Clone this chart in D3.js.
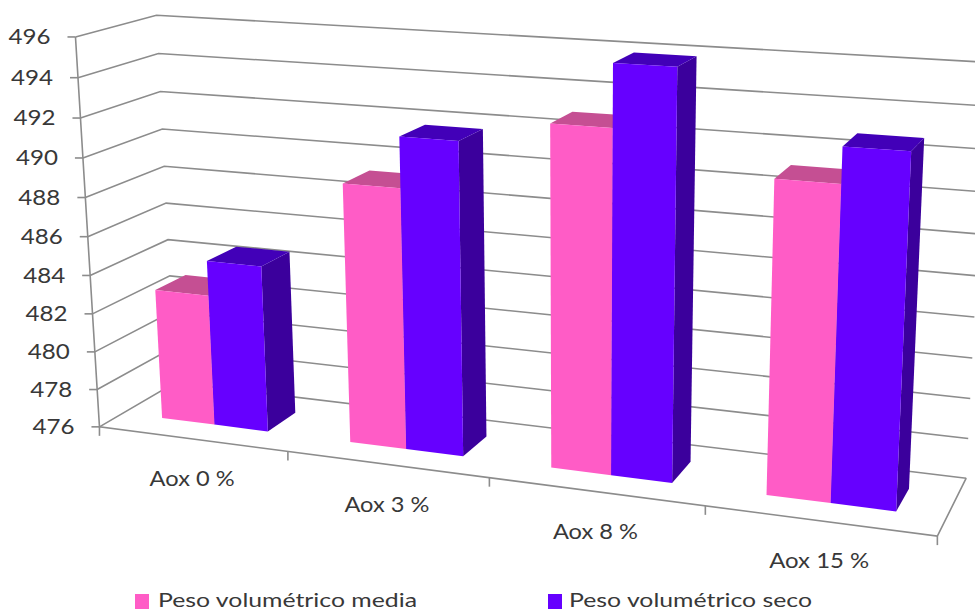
<!DOCTYPE html>
<html>
<head>
<meta charset="utf-8">
<script src="https://cdn.jsdelivr.net/npm/d3@7"></script>
<style>
  html, body { margin: 0; padding: 0; background: #fff; }
  svg { display: block; }
  text { font-family: Lato, "Noto Sans", sans-serif; fill: #383838; }
</style>
</head>
<body>
<svg id="chart" width="975" height="611"></svg>
<script>
// Chart values
const categories = ["Aox 0 %", "Aox 3 %", "Aox 8 %", "Aox 15 %"];
const seriesNames = ["Peso volumétrico media", "Peso volumétrico seco"];
const pesoMedia = [482.85, 489.23, 492.9, 491.1];
const pesoSeco = [484.65, 491.75, 495.9, 492.8];
const yTicks = [476, 478, 480, 482, 484, 486, 488, 490, 492, 494, 496];

const seriesValues = [pesoMedia, pesoSeco];
const faceColors = [
  { front: "#ff5cc6", top: "#c54f93", side: "#c54f93" },
  { front: "#6600ff", top: "#4200b8", side: "#3b009c" }
];

// Scales work in a unit cube: x along the categories, y up, z into the page
const xGroup = d3.scaleBand().domain(categories).range([0, 1]).paddingInner(0.43).paddingOuter(0.215);
const xSeries = d3.scaleBand().domain(seriesNames).range([0, xGroup.bandwidth()]);
const yScale = d3.scaleLinear().domain([476, 496]).range([0, 1]);
const barDepth = [0.3, 0.7];

// Camera: cube positions paired with where they land on the page.
// Corners outside the frame count once, the visible ones three times.
const visibleAnchors = [
  [0, 0, 0, 99, 427], [1, 0, 0, 938, 537], [0, 0, 1, 177, 384], [1, 0, 1, 967, 478],
  [0, 1, 0, 77, 35], [0, 1, 1, 155, 15], [0, 0.5, 0, 88, 237], [0, 0.5, 1, 166, 204],
  [0.25, 0, 0, 287, 451], [0.5, 0, 0, 488, 477], [0.75, 0, 0, 705, 505],
  [1, 0.2, 1, 970, 397]
];
const farAnchors = [[1, 1, 0, 961, 100], [1, 1, 1, 985, 60]];
const cameraAnchors = [...visibleAnchors, ...visibleAnchors, ...visibleAnchors, ...farAnchors];

// Least-squares fit of the 3x4 projective matrix (last entry fixed at 1)
function fitCamera(anchors) {
  const rows = [], rhs = [];
  anchors.forEach(([x, y, z, u, v]) => {
    u /= 1000; v /= 1000;
    rows.push([x, y, z, 1, 0, 0, 0, 0, -u * x, -u * y, -u * z]); rhs.push(u);
    rows.push([0, 0, 0, 0, x, y, z, 1, -v * x, -v * y, -v * z]); rhs.push(v);
  });
  const n = 11;
  const m = d3.range(n).map(i => d3.range(n + 1).map(j => {
    let s = 0;
    rows.forEach((r, k) => { s += r[i] * (j < n ? r[j] : rhs[k]); });
    return s;
  }));
  for (let c = 0; c < n; c++) {
    let p = c;
    for (let r = c + 1; r < n; r++) if (Math.abs(m[r][c]) > Math.abs(m[p][c])) p = r;
    [m[c], m[p]] = [m[p], m[c]];
    for (let r = 0; r < n; r++) {
      if (r === c) continue;
      const f = m[r][c] / m[c][c];
      for (let j = c; j <= n; j++) m[r][j] -= f * m[c][j];
    }
  }
  return d3.range(n).map(i => m[i][n] / m[i][i]);
}
const cam = fitCamera(cameraAnchors);
function project(x, y, z) {
  const w = cam[8] * x + cam[9] * y + cam[10] * z + 1;
  return [
    1000 * (cam[0] * x + cam[1] * y + cam[2] * z + cam[3]) / w,
    1000 * (cam[4] * x + cam[5] * y + cam[6] * z + cam[7]) / w
  ];
}

const svg = d3.select("#chart");
const path = d3.line();
const closed = pts => path(pts) + "Z";
const gridColor = "#8c8c8c";
const gridWidth = 1.6;

// Gridlines run along the left wall and across the back wall
svg.append("g").selectAll("path").data(yTicks).join("path")
  .attr("d", v => path([project(0, yScale(v), 0), project(0, yScale(v), 1), project(1, yScale(v), 1)]))
  .attr("fill", "none").attr("stroke", gridColor).attr("stroke-width", gridWidth);

// Floor edges and the vertical axis
svg.append("path")
  .attr("d", path([project(0, 1, 0), project(0, 0, 0), project(1, 0, 0), project(1, 0, 1)]))
  .attr("fill", "none").attr("stroke", gridColor).attr("stroke-width", gridWidth);

// Value ticks and labels
const yAxis = svg.append("g");
yAxis.selectAll("path").data(yTicks).join("path")
  .attr("d", v => {
    const [px, py] = project(0, yScale(v), 0);
    return path([[px - 8, py], [px, py]]);
  })
  .attr("stroke", gridColor).attr("stroke-width", gridWidth);
yAxis.selectAll("text").data(yTicks).join("text")
  .attr("x", v => project(0, yScale(v), 0)[0] - 25)
  .attr("y", v => project(0, yScale(v), 0)[1] + 2)
  .attr("text-anchor", "end").attr("dominant-baseline", "middle")
  .attr("font-size", 21).attr("textLength", 42).attr("lengthAdjust", "spacingAndGlyphs")
  .text(v => v);

// Category ticks and labels
const xAxis = svg.append("g");
xAxis.selectAll("path").data(d3.range(categories.length + 1)).join("path")
  .attr("d", i => {
    const [px, py] = project(i / categories.length, 0, 0);
    return path([[px, py], [px, py + 9]]);
  })
  .attr("stroke", gridColor).attr("stroke-width", gridWidth);
xAxis.selectAll("text").data(categories).join("text")
  .attr("x", c => project(xGroup(c) + xGroup.bandwidth() / 2, 0, 0)[0])
  .attr("y", c => project(xGroup(c) + xGroup.bandwidth() / 2, 0, 0)[1] + 42)
  .attr("text-anchor", "middle").attr("dominant-baseline", "middle")
  .attr("font-size", 21).attr("textLength", c => c.length > 7 ? 100 : 85)
  .attr("lengthAdjust", "spacingAndGlyphs")
  .text(c => c);

// Bars: front, top and right faces of each box, series by series within a group
const [z0, z1] = barDepth;
const groups = svg.append("g").selectAll("g").data(categories).join("g");
groups.each(function (cat, ci) {
  const g = d3.select(this);
  seriesNames.forEach((name, si) => {
    const a = xGroup(cat) + xSeries(name);
    const b = a + xSeries.bandwidth();
    const h = yScale(seriesValues[si][ci]);
    const colors = faceColors[si];
    const faces = [
      { fill: colors.side, pts: [[b, 0, z0], [b, 0, z1], [b, h, z1], [b, h, z0]] },
      { fill: colors.top, pts: [[a, h, z0], [b, h, z0], [b, h, z1], [a, h, z1]] },
      { fill: colors.front, pts: [[a, 0, z0], [b, 0, z0], [b, h, z0], [a, h, z0]] }
    ];
    g.selectAll(null).data(faces).join("path")
      .attr("d", f => closed(f.pts.map(p => project(...p))))
      .attr("fill", f => f.fill);
  });
});

// Legend
const legendX = d3.scalePoint().domain(seriesNames).range([135, 548]);
const legendWidths = d3.scaleOrdinal().domain(seriesNames).range([259, 243]);
const legend = svg.append("g").selectAll("g").data(seriesNames).join("g")
  .attr("transform", n => `translate(${legendX(n)},594)`);
legend.append("rect").attr("width", 14).attr("height", 15)
  .attr("fill", (n, i) => faceColors[i].front);
legend.append("text").attr("x", n => (legendX(n) > 300 ? 21 : 23)).attr("y", 12.5)
  .attr("font-size", 20)
  .attr("textLength", n => legendWidths(n)).attr("lengthAdjust", "spacingAndGlyphs")
  .text(n => n);
</script>
</body>
</html>
